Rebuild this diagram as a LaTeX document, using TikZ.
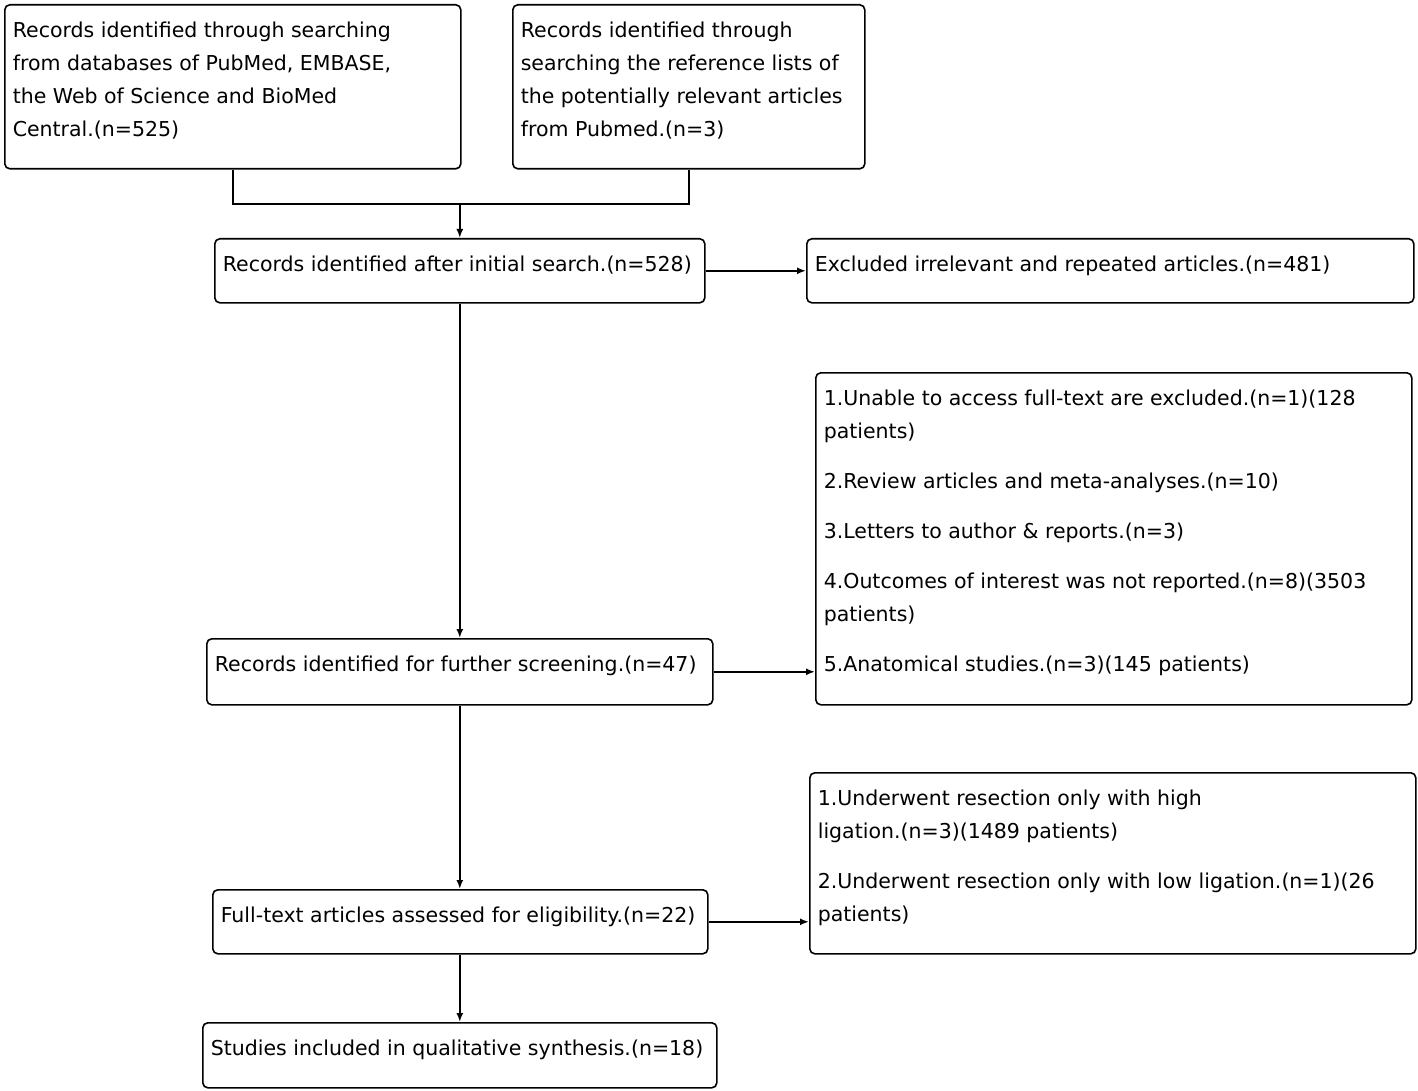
\documentclass[tikz,border=0pt]{standalone}
\usepackage{fontspec}
\setmainfont{DejaVu Sans}
\usetikzlibrary{arrows.meta}
\newcommand\flowtext[3]{\parbox[c][#2pt][t]{#1pt}{\raggedright\setlength{\parskip}{17pt}\rule{0pt}{33pt}#3}}

\begin{document}
\begin{tikzpicture}[
x=1pt,y=-1pt,
flowbox/.style={draw,rounded corners=5pt,line width=1.6pt,inner xsep=8pt,inner ysep=0pt,anchor=north west,
  font=\fontsize{20.5}{33}\selectfont},
flowline/.style={line width=1.8pt},
flowarrow/.style={line width=1.8pt,-{Latex[length=9pt,width=7pt]}}
]
\useasboundingbox (0,0) rectangle (1418,1091);
\node[flowbox] (recA) at (4,4) {\flowtext{440}{164}{Records identified through searching\\from databases of PubMed, EMBASE,\\the Web of Science and BioMed\\Central.(n=525)}};
\node[flowbox] (recB) at (512,4) {\flowtext{336}{164}{Records identified through\\searching the reference lists of\\the potentially relevant articles\\from Pubmed.(n=3)}};
\node[flowbox] (recC) at (214,238) {\flowtext{474}{64}{Records identified after initial search.(n=528)}};
\node[flowbox] (excD) at (806,238) {\flowtext{591}{64}{Excluded irrelevant and repeated articles.(n=481)}};
\node[flowbox] (recE) at (206,638) {\flowtext{490}{66}{Records identified for further screening.(n=47)}};
\node[flowbox] (excF) at (815,372) {\flowtext{580}{332}{1.Unable to access full-text are excluded.(n=1)(128\\patients)\par
2.Review articles and meta-analyses.(n=10)\par
3.Letters to author \& reports.(n=3)\par
4.Outcomes of interest was not reported.(n=8)(3503\\patients)\par
5.Anatomical studies.(n=3)(145 patients)}};
\node[flowbox] (fulG) at (212,889) {\flowtext{479}{64}{Full-text articles assessed for eligibility.(n=22)}};
\node[flowbox] (excH) at (809,772) {\flowtext{590}{181}{1.Underwent resection only with high\\ligation.(n=3)(1489 patients)\par
2.Underwent resection only with low ligation.(n=1)(26\\patients)}};
\node[flowbox] (incI) at (202,1022) {\flowtext{498}{65}{Studies included in qualitative synthesis.(n=18)}};

\coordinate (merge) at (recC.north |- 0,204);
\draw[flowline] (recA.south) |- (merge) -| (recB.south);
\draw[flowarrow] (merge) -- (recC.north);
\draw[flowarrow] (recC.east) -- (excD.west);
\draw[flowarrow] (recC.south) -- (recC.south |- recE.north);
\draw[flowarrow] (recE.east) -- (recE.east -| excF.west);
\draw[flowarrow] (recC.south |- recE.south) -- (recC.south |- fulG.north);
\draw[flowarrow] (fulG.east) -- (fulG.east -| excH.west);
\draw[flowarrow] (recC.south |- fulG.south) -- (recC.south |- incI.north);
\end{tikzpicture}
\end{document}
